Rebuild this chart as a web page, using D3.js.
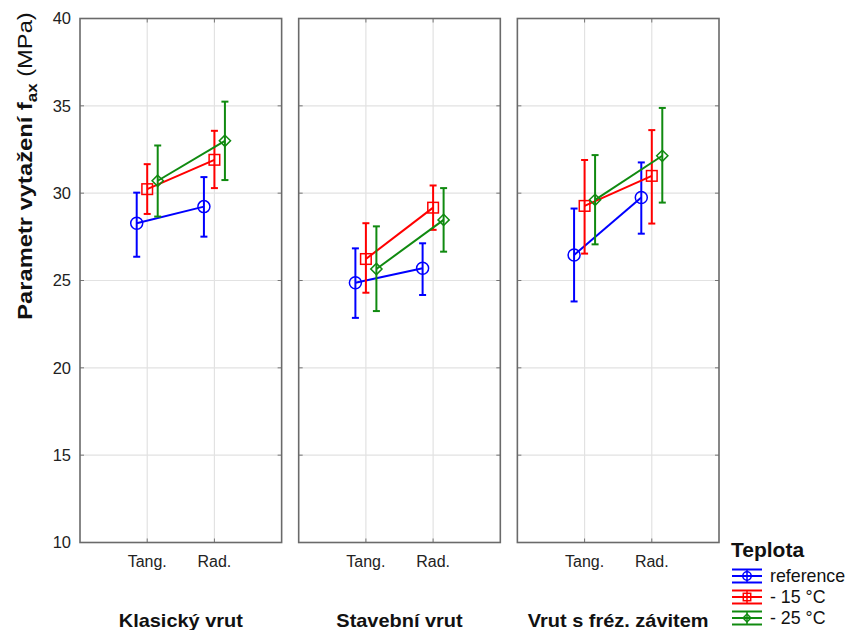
<!DOCTYPE html>
<html><head><meta charset="utf-8">
<script src="https://cdn.jsdelivr.net/npm/d3@7"></script>
<style>body{margin:0;background:#fff}svg{display:block;font-family:"Liberation Sans",Arial,sans-serif}</style>
</head><body>
<svg id="chart" width="847" height="630"></svg>
<script>
const facets = ["Klasický vrut", "Stavební vrut", "Vrut s fréz. závitem"];
const categories = ["Tang.", "Rad."];
const series = ["reference", "- 15 °C", "- 25 °C"];
const colors = ["#0000ff", "#ff0000", "#108a10"];
const yTicks = [10, 15, 20, 25, 30, 35, 40];
// mean values [facet][category]
const meanRef  = [[28.28, 29.23], [24.87, 25.70], [26.46, 29.75]];
const meanM15  = [[30.23, 31.91], [26.23, 29.17], [29.27, 30.99]];
const meanM25  = [[30.71, 33.00], [25.66, 28.47], [29.62, 32.14]];
const lowRef   = [[26.36, 27.51], [22.86, 24.17], [23.80, 27.68]];
const highRef  = [[30.03, 30.92], [26.84, 27.13], [29.12, 31.76]];
const lowM15   = [[28.81, 30.29], [24.30, 27.90], [26.54, 28.26]];
const highM15  = [[31.66, 33.57], [28.28, 30.44], [31.90, 33.61]];
const lowM25   = [[28.66, 30.75], [23.25, 26.65], [27.07, 29.46]];
const highM25  = [[32.73, 35.24], [28.10, 30.29], [32.18, 34.88]];

const means = [meanRef, meanM15, meanM25];
const lows = [lowRef, lowM15, lowM25];
const highs = [highRef, highM15, highM25];

const svg = d3.select("#chart");
const plotTop = 18.5, plotBottom = 542.5;
const y = d3.scaleLinear().domain([10, 40]).range([plotBottom, plotTop]);
const fx = d3.scaleBand().domain(facets).range([80, 719]).paddingInner(0.078);
const bw = fx.bandwidth();
const x = d3.scalePoint().domain(categories).range([0, bw]).padding(1);
const off = d3.scalePoint().domain(series).range([-10.5, 10.5]);

// y tick labels
svg.append("g").selectAll("text").data(yTicks).join("text")
  .attr("x", 71).attr("y", d => y(d)).attr("dy", "0.36em")
  .attr("text-anchor", "end").attr("font-size", 16.5).attr("fill", "#222")
  .text(d => d);

// y title
const yt = svg.append("text")
  .attr("transform", "translate(32,166) rotate(-90) scale(1.13,1)")
  .attr("text-anchor", "middle").attr("font-size", 21).attr("fill", "#111");
yt.append("tspan").attr("font-weight", "bold").text("Parametr vytažení f");
yt.append("tspan").attr("font-weight", "bold").attr("font-size", 15).attr("dy", 5).text("ax");
yt.append("tspan").attr("dy", -5).text(" (MPa)");

facets.forEach((f, fi) => {
  const g = svg.append("g").attr("transform", `translate(${fx(f)},0)`);
  const inner = yTicks.slice(1, -1);
  g.selectAll(".hg").data(inner).join("line")
    .attr("x1", 0).attr("x2", bw).attr("y1", d => y(d)).attr("y2", d => y(d))
    .attr("stroke", "#e2e2e2").attr("stroke-width", 1.2);
  g.selectAll(".vg").data(categories).join("line")
    .attr("x1", d => x(d)).attr("x2", d => x(d)).attr("y1", plotTop).attr("y2", plotBottom)
    .attr("stroke", "#e2e2e2").attr("stroke-width", 1.2);
  g.selectAll(".tl").data(inner).join("line")
    .attr("x1", 0).attr("x2", 4).attr("y1", d => y(d)).attr("y2", d => y(d)).attr("stroke", "#777");
  g.selectAll(".tr").data(inner).join("line")
    .attr("x1", bw - 4).attr("x2", bw).attr("y1", d => y(d)).attr("y2", d => y(d)).attr("stroke", "#777");
  g.selectAll(".tt").data(categories).join("line")
    .attr("x1", d => x(d)).attr("x2", d => x(d)).attr("y1", plotTop).attr("y2", plotTop + 4).attr("stroke", "#777");
  g.selectAll(".tb").data(categories).join("line")
    .attr("x1", d => x(d)).attr("x2", d => x(d)).attr("y1", plotBottom - 4).attr("y2", plotBottom).attr("stroke", "#777");
  g.append("rect").attr("x", 0).attr("y", plotTop).attr("width", bw).attr("height", plotBottom - plotTop)
    .attr("fill", "none").attr("stroke", "#6a6a6a").attr("stroke-width", 1.6);
  g.selectAll(".cl").data(categories).join("text")
    .attr("x", d => x(d)).attr("y", 566.5).attr("text-anchor", "middle")
    .attr("font-size", 16).attr("fill", "#222").text(d => d);
  g.append("text").attr("transform", `translate(${bw / 2},627) scale(1.05,1)`).attr("text-anchor", "middle")
    .attr("font-size", 19).attr("font-weight", "bold").attr("fill", "#111").text(f);

  series.forEach((s, si) => {
    const col = colors[si];
    const pts = categories.map((c, ci) => ({
      cx: x(c) + off(s), m: means[si][fi][ci], lo: lows[si][fi][ci], hi: highs[si][fi][ci]
    }));
    const sg = g.append("g");
    sg.append("path").attr("d", d3.line().x(d => d.cx).y(d => y(d.m))(pts))
      .attr("fill", "none").attr("stroke", col).attr("stroke-width", 2);
    pts.forEach(p => {
      sg.append("line").attr("x1", p.cx).attr("x2", p.cx).attr("y1", y(p.lo)).attr("y2", y(p.hi))
        .attr("stroke", col).attr("stroke-width", 2);
      [p.lo, p.hi].forEach(v => sg.append("line").attr("x1", p.cx - 3.5).attr("x2", p.cx + 3.5)
        .attr("y1", y(v)).attr("y2", y(v)).attr("stroke", col).attr("stroke-width", 2));
      drawMarker(sg, si, p.cx, y(p.m), 1, col);
    });
  });
});

function drawMarker(sel, si, cx, cy, k, col) {
  if (si === 0) {
    sel.append("circle").attr("cx", cx).attr("cy", cy).attr("r", 6 * k)
      .attr("fill", "none").attr("stroke", col).attr("stroke-width", 1.5);
  } else if (si === 1) {
    const h = 5.3 * k;
    sel.append("rect").attr("x", cx - h).attr("y", cy - h).attr("width", 2 * h).attr("height", 2 * h)
      .attr("fill", "none").attr("stroke", col).attr("stroke-width", 1.5);
  } else {
    const h = 5.6 * k, w = 5.6 * k;
    sel.append("path").attr("d", `M${cx},${cy - h}L${cx + w},${cy}L${cx},${cy + h}L${cx - w},${cy}Z`)
      .attr("fill", "none").attr("stroke", col).attr("stroke-width", 1.5);
  }
}

const lg = svg.append("g");
lg.append("text").attr("x", 731).attr("y", 557).attr("font-size", 21).attr("font-weight", "bold")
  .attr("fill", "#111").text("Teplota");
series.forEach((s, si) => {
  const cy = 576 + si * 21, col = colors[si];
  const e = lg.append("g");
  [cy - 6.5, cy, cy + 6.5].forEach(yy => e.append("line").attr("x1", 732).attr("x2", 762)
    .attr("y1", yy).attr("y2", yy).attr("stroke", col).attr("stroke-width", 2));
  e.append("line").attr("x1", 747).attr("x2", 747).attr("y1", cy - 6.5).attr("y2", cy + 6.5)
    .attr("stroke", col).attr("stroke-width", 1.5);
  drawMarker(e, si, 747, cy, 0.7, col);
  lg.append("text").attr("x", 770).attr("y", cy).attr("dy", "0.36em").attr("font-size", 17.8)
    .attr("fill", "#111").text(s);
});
</script>
</body></html>
